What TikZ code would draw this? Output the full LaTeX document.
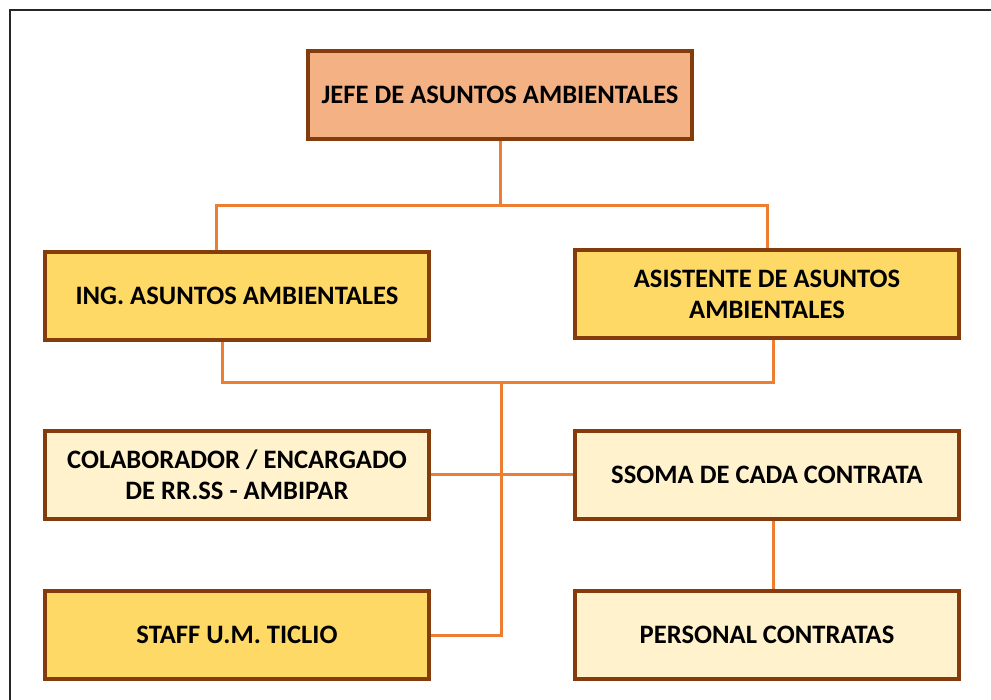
\documentclass[tikz,border=0pt]{standalone}
\usepackage{fontspec}
\setmainfont{Carlito}
\definecolor{boxline}{HTML}{843C0C}
\definecolor{linkcol}{HTML}{ED7D31}
\definecolor{headfill}{HTML}{F4B183}
\definecolor{midfill}{HTML}{FFD966}
\definecolor{lowfill}{HTML}{FFF2CC}
\begin{document}
\begin{tikzpicture}[x=1pt,y=-1pt,
    unit/.style={draw=boxline,line width=3.4pt,minimum width=384pt,minimum height=88pt,
      align=center,inner sep=0pt,font=\bfseries\fontsize{26.6}{31}\selectfont},
    link/.style={draw=linkcol,line width=3pt}]
  \useasboundingbox (0,0) rectangle (991,700);
  \draw[line width=2pt,black!85] (10,720) -- (10,10) -- (1010,10);
  \node[unit,fill=headfill] (jefe) at (500,95) {JEFE DE ASUNTOS AMBIENTALES};
  \node[unit,fill=midfill] (ing) at (237,296) {ING. ASUNTOS AMBIENTALES};
  \node[unit,fill=midfill] (asis) at (767,294) {ASISTENTE DE ASUNTOS\\AMBIENTALES};
  \node[unit,fill=lowfill] (colab) at (237,475) {COLABORADOR / ENCARGADO\\DE RR.SS - AMBIPAR};
  \node[unit,fill=lowfill] (ssoma) at (767,475) {SSOMA DE CADA CONTRATA};
  \node[unit,fill=midfill] (staff) at (237,635) {STAFF U.M. TICLIO};
  \node[unit,fill=lowfill] (pers) at (767,635) {PERSONAL CONTRATAS};
  \coordinate (top) at (500,206);
  \coordinate (mid) at (501,383);
  \draw[link] (jefe.south) -- (top);
  \draw[link] ([xshift=-21pt]ing.north) |- (top) -| (asis.north);
  \draw[link] ([xshift=-15pt]ing.south) |- (mid) -| ([xshift=6pt]asis.south);
  \draw[link] (mid) |- (staff.east);
  \draw[link] (colab.east) -- (ssoma.west);
  \draw[link] ([xshift=6pt]ssoma.south) -- ([xshift=6pt]pers.north);
\end{tikzpicture}
\end{document}
